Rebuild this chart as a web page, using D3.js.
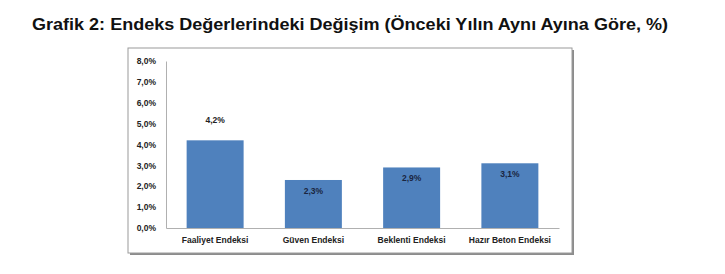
<!DOCTYPE html>
<html>
<head>
<meta charset="utf-8">
<script src="https://cdn.jsdelivr.net/npm/d3@7"></script>
<style>
  body { margin: 0; background: #fff; }
  svg { display: block; }
</style>
</head>
<body>
<div id="chart"></div>
<script>
// Chart data
const categories = ["Faaliyet Endeksi", "Güven Endeksi", "Beklenti Endeksi", "Hazır Beton Endeksi"];
const values = [4.2, 2.3, 2.9, 3.1];
const valueLabels = ["4,2%", "2,3%", "2,9%", "3,1%"];
const labelInside = [false, true, true, true];
const yTicks = [0, 1, 2, 3, 4, 5, 6, 7, 8];

const width = 725, height = 274;
const frame = {left: 128, top: 48, right: 572, bottom: 253};
const plot = {left: 166, right: 559, top: 61, bottom: 228};

const svg = d3.select("#chart").append("svg")
    .attr("width", width)
    .attr("height", height);

// Title
svg.append("text")
    .attr("x", 32)
    .attr("y", 30)
    .attr("font-family", "Liberation Sans, Arial, sans-serif")
    .attr("font-weight", "bold")
    .attr("font-size", 17)
    .attr("fill", "#111")
    .attr("textLength", 636)
    .attr("lengthAdjust", "spacingAndGlyphs")
    .text("Grafik 2: Endeks Değerlerindeki Değişim (Önceki Yılın Aynı Ayına Göre, %)");

// Chart frame with shadow
svg.append("rect")
    .attr("x", frame.left + 2)
    .attr("y", frame.top + 2)
    .attr("width", frame.right - frame.left)
    .attr("height", frame.bottom - frame.top)
    .attr("fill", "#8c8c8c");
svg.append("rect")
    .attr("x", frame.left)
    .attr("y", frame.top)
    .attr("width", frame.right - frame.left)
    .attr("height", frame.bottom - frame.top)
    .attr("fill", "#fff")
    .attr("stroke", "#9a9a9a")
    .attr("stroke-width", 1);

// Scales
const x = d3.scaleBand()
    .domain(categories)
    .range([plot.left, plot.right])
    .paddingInner(0.42)
    .paddingOuter(0.21);

const y = d3.scaleLinear()
    .domain([0, 8])
    .range([plot.bottom, plot.top]);

const font = "Liberation Sans, Arial, sans-serif";

// Y axis
const yAxis = svg.append("g")
    .attr("transform", `translate(${plot.left},0)`)
    .call(d3.axisLeft(y).tickValues(yTicks).tickSize(0).tickPadding(10)
        .tickFormat(d => d3.format(".1f")(d).replace(".", ",") + "%"));
yAxis.select(".domain").attr("stroke", "#b0b0b0");
yAxis.selectAll("text")
    .attr("font-family", font)
    .attr("font-weight", "bold")
    .attr("font-size", 8.5)
    .attr("fill", "#222");

// X axis
const xAxis = svg.append("g")
    .attr("transform", `translate(0,${plot.bottom})`)
    .call(d3.axisBottom(x).tickSize(0).tickPadding(9));
xAxis.select(".domain").attr("stroke", "#b0b0b0");
xAxis.selectAll("text")
    .attr("font-family", font)
    .attr("font-weight", "bold")
    .attr("font-size", 8.5)
    .attr("fill", "#222");

// Bars
svg.append("g")
    .selectAll("rect")
    .data(values)
    .join("rect")
    .attr("x", (d, i) => x(categories[i]))
    .attr("y", d => y(d))
    .attr("width", x.bandwidth())
    .attr("height", d => y(0) - y(d))
    .attr("fill", "#4f81bd");

// Value labels
svg.append("g")
    .selectAll("text")
    .data(values)
    .join("text")
    .attr("x", (d, i) => x(categories[i]) + x.bandwidth() / 2)
    .attr("y", (d, i) => labelInside[i] ? y(d) + 14 : y(d) - 17)
    .attr("text-anchor", "middle")
    .attr("font-family", font)
    .attr("font-weight", "bold")
    .attr("font-size", 8.5)
    .attr("fill", (d, i) => labelInside[i] ? "#1a2540" : "#222")
    .text((d, i) => valueLabels[i]);
</script>
</body>
</html>
